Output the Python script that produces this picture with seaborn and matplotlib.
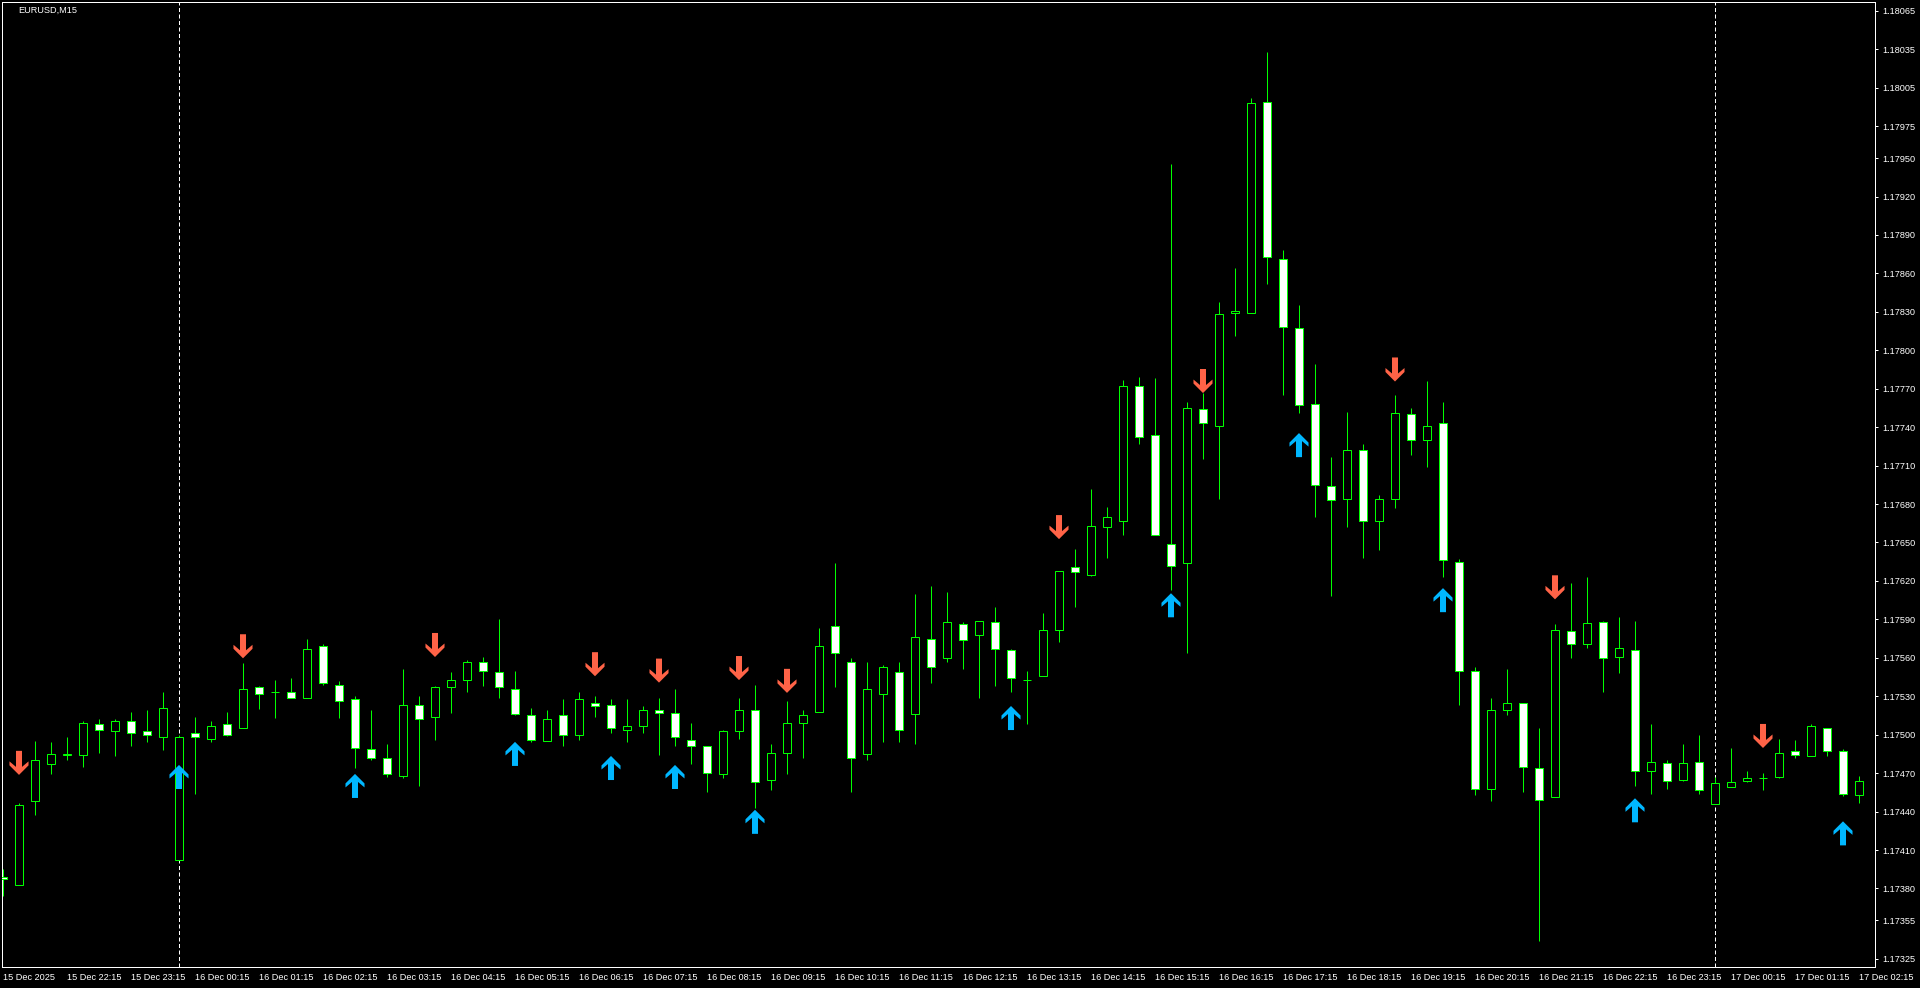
import matplotlib
matplotlib.use("Agg")
import matplotlib.pyplot as plt
from matplotlib.path import Path
import numpy as np
import pandas as pd
import seaborn as sns

# --- data ---
chart_title = "EURUSD,M15"

opens = [
    1.17389, 1.17383, 1.17448, 1.17477, 1.17484, 1.17484, 1.17508, 1.17503, 1.17511, 1.17503,
    1.17498, 1.17402, 1.17501, 1.17497, 1.17508, 1.17505, 1.17537, 1.17533, 1.17533, 1.17529,
    1.17569, 1.17539, 1.17528, 1.17489, 1.17482, 1.17468, 1.17523, 1.17514, 1.17537, 1.17543,
    1.17557, 1.17549, 1.17536, 1.17515, 1.17495, 1.17515, 1.17500, 1.17525, 1.17523, 1.17504,
    1.17507, 1.17519, 1.17517, 1.17496, 1.17491, 1.17469, 1.17503, 1.17519, 1.17465, 1.17486,
    1.17509, 1.17518, 1.17585, 1.17557, 1.17485, 1.17532, 1.17549, 1.17516, 1.17575, 1.17560,
    1.17586, 1.17578, 1.17588, 1.17566, 1.17543, 1.17546, 1.17582, 1.17631, 1.17625, 1.17662,
    1.17667, 1.17772, 1.17734, 1.17649, 1.17634, 1.17754, 1.17741, 1.17829, 1.17829, 1.17994,
    1.17871, 1.17817, 1.17758, 1.17694, 1.17684, 1.17722, 1.17667, 1.17684, 1.17750, 1.17730,
    1.17743, 1.17635, 1.17550, 1.17458, 1.17519, 1.17525, 1.17474, 1.17451, 1.17581, 1.17571,
    1.17588, 1.17561, 1.17566, 1.17472, 1.17478, 1.17465, 1.17479, 1.17446, 1.17459, 1.17464,
    1.17466, 1.17467, 1.17487, 1.17483, 1.17505, 1.17487, 1.17453,
]
highs = [
    1.17395, 1.17447, 1.17495, 1.17494, 1.17498, 1.17511, 1.17512, 1.17512, 1.17518, 1.17519,
    1.17533, 1.17500, 1.17514, 1.17511, 1.17518, 1.17556, 1.17538, 1.17543, 1.17544, 1.17575,
    1.17571, 1.17542, 1.17530, 1.17519, 1.17493, 1.17551, 1.17530, 1.17538, 1.17549, 1.17558,
    1.17561, 1.17590, 1.17550, 1.17521, 1.17519, 1.17528, 1.17533, 1.17530, 1.17528, 1.17528,
    1.17522, 1.17529, 1.17536, 1.17509, 1.17491, 1.17504, 1.17529, 1.17539, 1.17493, 1.17526,
    1.17519, 1.17583, 1.17634, 1.17560, 1.17557, 1.17554, 1.17557, 1.17610, 1.17616, 1.17611,
    1.17588, 1.17589, 1.17600, 1.17567, 1.17550, 1.17595, 1.17628, 1.17645, 1.17692, 1.17678,
    1.17777, 1.17779, 1.17778, 1.17945, 1.17760, 1.17767, 1.17838, 1.17864, 1.17997, 1.18033,
    1.17878, 1.17835, 1.17789, 1.17717, 1.17752, 1.17727, 1.17687, 1.17765, 1.17755, 1.17776,
    1.17760, 1.17637, 1.17553, 1.17529, 1.17551, 1.17525, 1.17505, 1.17586, 1.17618, 1.17623,
    1.17589, 1.17592, 1.17589, 1.17508, 1.17480, 1.17493, 1.17500, 1.17467, 1.17490, 1.17472,
    1.17470, 1.17497, 1.17496, 1.17508, 1.17505, 1.17489, 1.17468,
]
lows = [
    1.17374, 1.17383, 1.17437, 1.17469, 1.17480, 1.17475, 1.17486, 1.17483, 1.17491, 1.17494,
    1.17488, 1.17402, 1.17454, 1.17494, 1.17499, 1.17505, 1.17520, 1.17513, 1.17529, 1.17529,
    1.17539, 1.17513, 1.17474, 1.17480, 1.17467, 1.17466, 1.17460, 1.17496, 1.17517, 1.17533,
    1.17538, 1.17529, 1.17515, 1.17494, 1.17495, 1.17491, 1.17496, 1.17514, 1.17501, 1.17494,
    1.17501, 1.17484, 1.17491, 1.17477, 1.17455, 1.17466, 1.17497, 1.17443, 1.17457, 1.17469,
    1.17482, 1.17518, 1.17537, 1.17455, 1.17480, 1.17494, 1.17494, 1.17493, 1.17540, 1.17557,
    1.17551, 1.17529, 1.17538, 1.17533, 1.17508, 1.17546, 1.17572, 1.17600, 1.17624, 1.17638,
    1.17656, 1.17727, 1.17656, 1.17613, 1.17564, 1.17715, 1.17684, 1.17811, 1.17829, 1.17852,
    1.17765, 1.17751, 1.17670, 1.17608, 1.17662, 1.17638, 1.17644, 1.17677, 1.17718, 1.17709,
    1.17623, 1.17523, 1.17453, 1.17448, 1.17515, 1.17455, 1.17339, 1.17451, 1.17560, 1.17568,
    1.17533, 1.17548, 1.17460, 1.17454, 1.17458, 1.17464, 1.17454, 1.17446, 1.17459, 1.17463,
    1.17457, 1.17466, 1.17482, 1.17483, 1.17483, 1.17452, 1.17447,
]
closes = [
    1.17387, 1.17445, 1.17480, 1.17485, 1.17485, 1.17509, 1.17504, 1.17511, 1.17501, 1.17500,
    1.17521, 1.17498, 1.17498, 1.17507, 1.17500, 1.17536, 1.17532, 1.17533, 1.17529, 1.17567,
    1.17540, 1.17526, 1.17490, 1.17482, 1.17469, 1.17523, 1.17512, 1.17537, 1.17543, 1.17557,
    1.17550, 1.17537, 1.17516, 1.17496, 1.17512, 1.17500, 1.17528, 1.17522, 1.17505, 1.17507,
    1.17519, 1.17517, 1.17498, 1.17491, 1.17470, 1.17503, 1.17519, 1.17463, 1.17486, 1.17509,
    1.17515, 1.17569, 1.17564, 1.17482, 1.17536, 1.17553, 1.17504, 1.17576, 1.17553, 1.17588,
    1.17574, 1.17589, 1.17567, 1.17544, 1.17543, 1.17582, 1.17628, 1.17627, 1.17663, 1.17670,
    1.17772, 1.17732, 1.17656, 1.17632, 1.17755, 1.17743, 1.17828, 1.17831, 1.17993, 1.17873,
    1.17818, 1.17757, 1.17695, 1.17683, 1.17722, 1.17667, 1.17684, 1.17751, 1.17730, 1.17741,
    1.17636, 1.17550, 1.17458, 1.17519, 1.17525, 1.17475, 1.17449, 1.17582, 1.17571, 1.17587,
    1.17560, 1.17568, 1.17472, 1.17479, 1.17464, 1.17478, 1.17457, 1.17462, 1.17463, 1.17466,
    1.17466, 1.17486, 1.17484, 1.17507, 1.17487, 1.17454, 1.17464,
]

time_labels = [
    "15 Dec 2025", "15 Dec 22:15", "15 Dec 23:15",
    "16 Dec 00:15", "16 Dec 01:15", "16 Dec 02:15", "16 Dec 03:15", "16 Dec 04:15",
    "16 Dec 05:15", "16 Dec 06:15", "16 Dec 07:15", "16 Dec 08:15", "16 Dec 09:15",
    "16 Dec 10:15", "16 Dec 11:15", "16 Dec 12:15", "16 Dec 13:15", "16 Dec 14:15",
    "16 Dec 15:15", "16 Dec 16:15", "16 Dec 17:15", "16 Dec 18:15", "16 Dec 19:15",
    "16 Dec 20:15", "16 Dec 21:15", "16 Dec 22:15", "16 Dec 23:15",
    "17 Dec 00:15", "17 Dec 01:15", "17 Dec 02:15",
]

price_ticks = [
    1.18065, 1.18035, 1.18005, 1.17975, 1.17950, 1.17920, 1.17890, 1.17860, 1.17830,
    1.17800, 1.17770, 1.17740, 1.17710, 1.17680, 1.17650, 1.17620, 1.17590, 1.17560,
    1.17530, 1.17500, 1.17470, 1.17440, 1.17410, 1.17380, 1.17355, 1.17325,
]

# day separators (bar index of 00:00)
separator_bars = [11, 107]

# signal arrows
sell_bars = [1, 15, 27, 37, 41, 46, 49, 66, 75, 87, 97, 110]
sell_prices = [1.17478, 1.17569, 1.17570, 1.17555, 1.17550, 1.17552,
               1.17542, 1.17662, 1.17776, 1.17785, 1.17615, 1.17499]
buy_bars = [11, 22, 32, 38, 42, 47, 63, 73, 81, 90, 102, 115]
buy_prices = [1.17467, 1.17460, 1.17485, 1.17474, 1.17467, 1.17432,
              1.17513, 1.17601, 1.17726, 1.17605, 1.17441, 1.17423]

df = pd.DataFrame({"open": opens, "high": highs, "low": lows, "close": closes})
df["bar"] = np.arange(len(df))
df["bull"] = df["close"] >= df["open"]

sell_df = pd.DataFrame({"bar": sell_bars, "price": sell_prices})
buy_df = pd.DataFrame({"bar": buy_bars, "price": buy_prices})

# --- style ---
sns.set_style("dark", rc={
    "axes.facecolor": "black",
    "figure.facecolor": "black",
    "axes.edgecolor": "white",
    "axes.grid": False,
})
plt.rcParams["font.family"] = ["Liberation Sans", "DejaVu Sans"]

GREEN = "#00ff00"
PX = 0.72  # one pixel in points at dpi 100

fig = plt.figure(figsize=(19.2, 9.88), dpi=100)
ax = fig.add_axes([2 / 1920, 21 / 988, 1873 / 1920, 965 / 988])

for b in separator_bars:
    ax.axvline(b, color="white", lw=PX, ls=(0, (4, 2.5)), zorder=1)

# wicks then bodies
ax.vlines(df["bar"], df["low"], df["high"], colors=GREEN, linewidth=PX, zorder=2)
ax.bar(
    df["bar"],
    df["close"] - df["open"],
    bottom=df["open"],
    width=0.56,
    color=np.where(df["bull"], "black", "white"),
    edgecolor=GREEN,
    linewidth=PX,
    zorder=3,
)

# arrow markers (thick wingdings-like arrows)
up_verts = [(0, 12), (9.5, 2.5), (9.5, -1.5), (3, 4), (3, -12),
            (-3, -12), (-3, 4), (-9.5, -1.5), (-9.5, 2.5), (0, 12)]
codes = [Path.MOVETO] + [Path.LINETO] * 8 + [Path.CLOSEPOLY]
up_arrow = Path(up_verts, codes)
down_arrow = Path([(x, -y) for x, y in up_verts], codes)

sns.scatterplot(data=buy_df, x="bar", y="price", marker=up_arrow, s=300,
                color="#00b7ff", edgecolor="none", linewidth=0, ax=ax, zorder=4, legend=False)
sns.scatterplot(data=sell_df, x="bar", y="price", marker=down_arrow, s=300,
                color="#ff6347", edgecolor="none", linewidth=0, ax=ax, zorder=4, legend=False)

ax.set_xlim(-0.0625, 117.0)
ax.set_ylim(1.173187, 1.180718)

ax.yaxis.tick_right()
ax.set_yticks(price_ticks)
ax.set_yticklabels([f"{p:.5f}" for p in price_ticks])
ax.set_xticks(range(0, 117, 4))
ax.set_xticklabels(time_labels, ha="left")
ax.tick_params(axis="y", colors="white", length=2, width=PX, pad=3, labelsize=6.6)
ax.tick_params(axis="x", colors="white", length=2.5, width=PX, pad=2, labelsize=6.6)
ax.set_xlabel("")
ax.set_ylabel("")

for side in ["left", "right", "top", "bottom"]:
    ax.spines[side].set_visible(True)
    ax.spines[side].set_color("white")
    ax.spines[side].set_linewidth(PX)

fig.text(18 / 1920, 1 - 10.5 / 988, chart_title, color="white", fontsize=6.6,
         ha="left", va="center")

fig.savefig("out.png", dpi=100, facecolor="black")
